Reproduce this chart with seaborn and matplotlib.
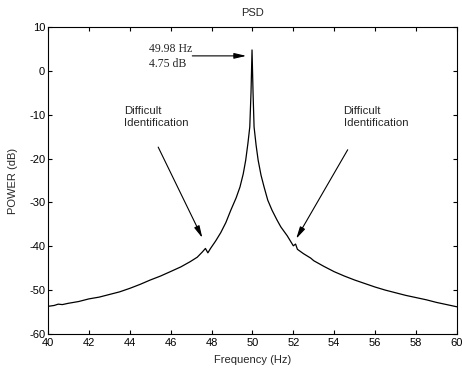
import matplotlib
matplotlib.use("Agg")
import matplotlib.pyplot as plt
import seaborn as sns
import pandas as pd

freq = [40.0, 40.3, 40.5, 40.7, 41.0, 41.5, 42.0, 42.5, 43.0, 43.5, 44.0, 44.5,
        45.0, 45.5, 45.98, 46.5, 46.96, 47.3, 47.55, 47.7, 47.82, 47.95, 48.2,
        48.45, 48.7, 48.94, 49.2, 49.39, 49.55, 49.67, 49.78, 49.87, 49.93, 49.98,
        50.03, 50.08, 50.18, 50.28, 50.42, 50.57, 50.75, 50.96, 51.2, 51.39, 51.7,
        52.0, 52.11, 52.2, 52.5, 52.85, 53.0, 53.5, 54.0, 54.5, 55.0, 55.5, 56.0,
        56.5, 57.0, 57.5, 58.0, 58.5, 59.0, 59.5, 60.0]
power = [-53.7, -53.5, -53.2, -53.3, -53.0, -52.6, -52.0, -51.6, -51.0, -50.4, -49.6, -48.7,
         -47.7, -46.8, -45.8, -44.7, -43.5, -42.5, -41.3, -40.5, -41.5, -40.5, -38.8,
         -36.9, -34.6, -31.8, -29.0, -26.5, -23.5, -20.4, -16.5, -12.8, -5.0, 4.75,
         -5.0, -12.8, -17.0, -20.4, -23.8, -26.5, -29.5, -31.8, -34.0, -35.6, -37.6,
         -39.9, -39.5, -40.7, -41.7, -42.7, -43.3, -44.6, -45.8, -46.8, -47.7, -48.5, -49.3,
         -50.0, -50.6, -51.2, -51.7, -52.2, -52.8, -53.3, -53.8]

x_ticks = [40, 42, 44, 46, 48, 50, 52, 54, 56, 58, 60]
y_ticks = [-60, -50, -40, -30, -20, -10, 0, 10]

sns.set_theme(style="ticks")
plt.rcParams['font.family'] = ['Liberation Sans', 'DejaVu Sans']
plt.rcParams['axes.unicode_minus'] = False
plt.rcParams['xtick.direction'] = 'in'
plt.rcParams['ytick.direction'] = 'in'

df = pd.DataFrame({"freq": freq, "power": power})

fig = plt.figure(figsize=(4.62, 3.74), dpi=100)
ax = fig.add_axes([0.1039, 0.107, 0.885, 0.821])
sns.lineplot(data=df, x="freq", y="power", ax=ax, color="black", lw=0.9)

ax.set_xlim(40, 60)
ax.set_ylim(-60, 10)
ax.set_xticks(x_ticks)
ax.set_yticks(y_ticks)
ax.tick_params(axis='both', labelsize=8, length=3, width=0.8, top=True, right=True,
               direction='in', pad=2, colors='black')
ax.tick_params(axis='x', pad=3)
for s in ax.spines.values():
    s.set_linewidth(0.8)
    s.set_color('black')
ax.set_xlabel("Frequency (Hz)", fontsize=8, labelpad=5)
ax.set_ylabel("POWER (dB)", fontsize=8, labelpad=8)
ax.set_title("PSD", fontsize=8, pad=8)

arrow = dict(arrowstyle='-|>,head_width=0.14,head_length=0.6', color='black', lw=0.8,
             shrinkA=0, shrinkB=0)
ax.text(44.95, 3.3, "49.98 Hz\n4.75 dB", fontsize=8.5,
        family=['Liberation Serif', 'DejaVu Serif'], va='center', ha='left', linespacing=1.35)
ax.annotate("", xy=(49.7, 3.4), xytext=(47.06, 3.4), arrowprops=arrow)
ax.text(43.73, -8.0, "Difficult\nIdentification", fontsize=8.2, va='top', ha='left', linespacing=1.3)
ax.annotate("", xy=(47.55, -38.1), xytext=(45.39, -17.4), arrowprops=arrow)
ax.text(54.46, -8.0, "Difficult\nIdentification", fontsize=8.2, va='top', ha='left', linespacing=1.3)
ax.annotate("", xy=(52.14, -38.3), xytext=(54.66, -18.0), arrowprops=arrow)

fig.savefig("out.png", dpi=100)
